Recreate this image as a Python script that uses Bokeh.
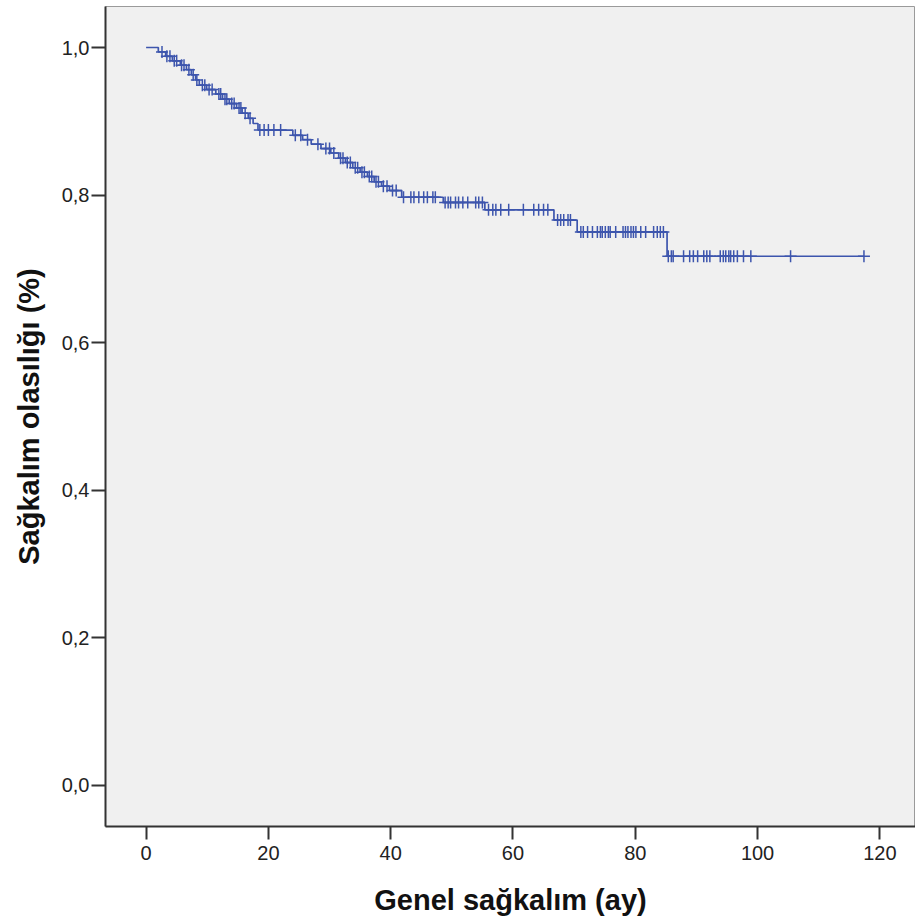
import numpy as np
from bokeh.plotting import figure
from bokeh.models import FixedTicker, Range1d
from bokeh.embed import file_html
from bokeh.resources import INLINE

# Kaplan-Meier step data (time in months, survival after event)
event_times = [2.0, 3.2, 4.3, 5.6, 6.6, 7.4, 8.1, 8.7, 9.9, 11.4, 12.5, 13.6, 14.8, 15.7,
               16.7, 17.5, 18.3, 24.0, 25.6, 27.0, 28.6, 30.2, 31.5, 32.6, 33.8, 35.0,
               36.2, 37.3, 38.5, 39.8, 41.8, 48.6, 55.4, 66.7, 70.5, 85.2]
surv_after = [0.994, 0.988, 0.982, 0.976, 0.970, 0.963, 0.956, 0.949, 0.943, 0.937, 0.930,
              0.924, 0.918, 0.911, 0.904, 0.897, 0.888, 0.881, 0.875, 0.869, 0.863, 0.857,
              0.850, 0.844, 0.837, 0.831, 0.825, 0.818, 0.812, 0.806, 0.797, 0.790, 0.780,
              0.766, 0.750, 0.717]

censor_times = [2.6, 3.4, 3.9, 4.6, 5.0, 5.8, 6.2, 7.0, 7.7, 8.3, 9.2, 9.6, 10.3, 10.8, 11.9,
                12.2, 12.9, 13.2, 14.0, 14.4, 15.2, 15.5, 16.2, 17.0, 18.6, 19.3, 20.0, 20.9,
                22.0, 24.4, 25.3, 26.4, 28.1, 29.4, 30.0, 30.7, 31.8, 32.2, 32.9, 33.4, 34.2,
                34.6, 35.3, 35.7, 36.5, 36.9, 37.6, 38.0, 38.8, 39.4, 40.3, 40.9, 42.1, 43.3,
                43.8, 44.6, 45.4, 46.0, 46.9, 47.3, 48.9, 49.4, 49.8, 50.6, 51.1, 51.8, 52.6,
                53.9, 54.4, 55.0, 56.0, 56.7, 57.2, 58.0, 59.3, 61.7, 63.4, 64.2, 65.0, 65.7,
                67.3, 67.8, 68.3, 69.0, 69.4, 71.1, 71.5, 72.2, 73.0, 73.8, 74.3, 74.6, 75.1,
                75.6, 75.9, 76.8, 78.0, 78.4, 78.8, 79.3, 79.7, 80.1, 80.9, 81.7, 83.0, 83.6,
                84.1, 84.6, 85.4, 85.9, 86.2, 87.9, 88.9, 89.5, 90.2, 91.2, 91.7, 92.2, 93.9,
                94.4, 94.8, 95.3, 95.6, 96.1, 96.7, 97.7, 98.9, 105.4, 117.4]

x_ticks = [0, 20, 40, 60, 80, 100, 120]
y_ticks = [0.0, 0.2, 0.4, 0.6, 0.8, 1.0]
y_tick_labels = ["0,0", "0,2", "0,4", "0,6", "0,8", "1,0"]

x_title = "Genel sağkalım (ay)"
y_title = "Sağkalım olasılığı (%)"

# step line arrays
end_time = max(censor_times)
step_x = [0.0] + event_times + [end_time]
step_y = [1.0] + surv_after + [surv_after[-1]]

et = np.array(event_times)
sa = np.array([1.0] + surv_after)
censor_y = [float(sa[np.searchsorted(et, t, side="right")]) for t in censor_times]

FONT = "Liberation Sans"
BLUE = "#3D55AD"

p = figure(width=915, height=920, output_backend="svg", toolbar_location=None,
           x_range=Range1d(-6.64, 125.83), y_range=Range1d(-0.0561, 1.0556),
           min_border_left=105, min_border_right=0, min_border_top=6, min_border_bottom=94)

p.background_fill_color = "#F0F0F0"
p.border_fill_color = "white"
p.outline_line_color = "#9A9A9A"
p.outline_line_width = 1
p.xgrid.visible = False
p.ygrid.visible = False

p.step(step_x, step_y, mode="after", line_color=BLUE, line_width=1.7)
p.scatter(censor_times, censor_y, marker="cross", size=12, line_color=BLUE, line_width=1.5)

for ax in (p.xaxis[0], p.yaxis[0]):
    ax.axis_line_color = "#333333"
    ax.axis_line_width = 2
    ax.major_tick_line_color = "#333333"
    ax.major_tick_line_width = 2
    ax.major_tick_in = 0
    ax.minor_tick_line_color = None
    ax.major_label_text_font = FONT
    ax.major_label_text_font_size = "20px"
    ax.major_label_text_color = "#222222"
    ax.axis_label_text_font = FONT
    ax.axis_label_text_font_size = "29px"
    ax.axis_label_text_font_style = "bold"
    ax.axis_label_text_color = "#111111"

p.xaxis.ticker = FixedTicker(ticks=x_ticks)
p.xaxis.major_tick_out = 13
p.xaxis.major_label_standoff = 6
p.xaxis.axis_label = x_title
p.xaxis.axis_label_standoff = 21

p.yaxis.ticker = FixedTicker(ticks=y_ticks)
p.yaxis.major_label_overrides = {t: l for t, l in zip(y_ticks, y_tick_labels)}
p.yaxis.major_tick_out = 14
p.yaxis.major_label_standoff = 2
p.yaxis.axis_label = y_title
p.yaxis.axis_label_standoff = 14

open("out.html", "w").write(file_html(p, INLINE))
